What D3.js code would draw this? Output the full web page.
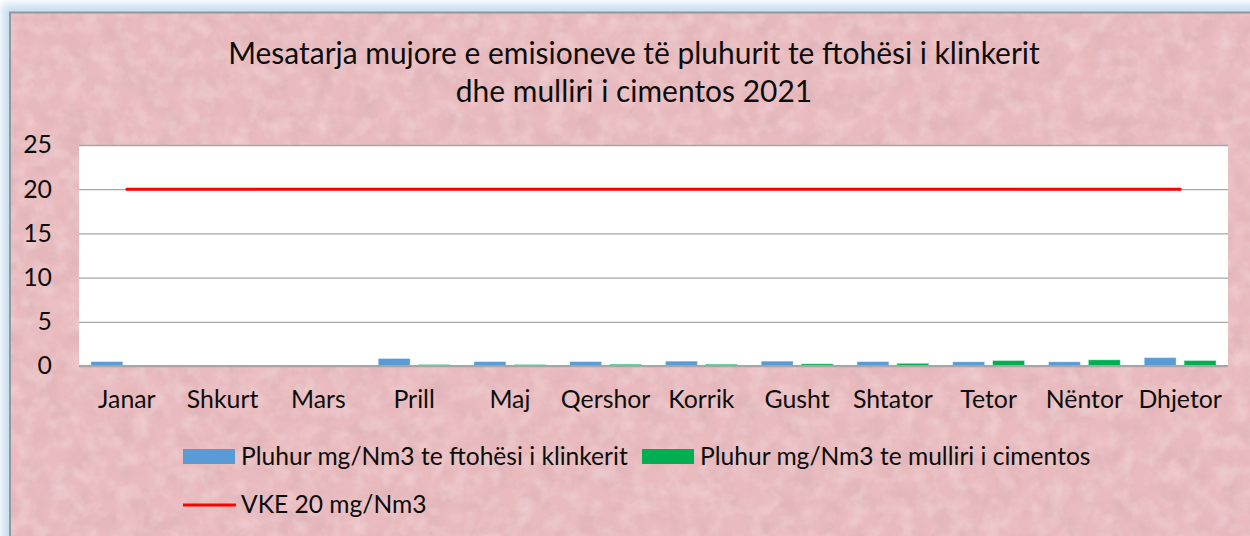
<!DOCTYPE html>
<html>
<head>
<meta charset="utf-8">
<script src="https://cdn.jsdelivr.net/npm/d3@7"></script>
<style>
  html, body { margin: 0; padding: 0; background: #ffffff; }
  svg { display: block; }
  text { font-family: Lato, "Open Sans", sans-serif; fill: #0d0d0d; }
</style>
</head>
<body>
<svg id="chart" width="1250" height="536"></svg>
<script>
// Monthly averages of dust emissions, 2021
const months = ["Janar", "Shkurt", "Mars", "Prill", "Maj", "Qershor", "Korrik", "Gusht", "Shtator", "Tetor", "Nëntor", "Dhjetor"];
const clinkerCooler = [0.5, 0, 0, 0.85, 0.5, 0.5, 0.55, 0.55, 0.5, 0.48, 0.48, 0.95];
const cementMill = [0, 0, 0, 0.17, 0.17, 0.2, 0.2, 0.25, 0.3, 0.62, 0.7, 0.62];
const limitVKE = [20, 20, 20, 20, 20, 20, 20, 20, 20, 20, 20, 20];
const yTicks = [0, 5, 10, 15, 20, 25];
const titleLines = ["Mesatarja mujore e emisioneve të pluhurit te ftohësi i klinkerit", "dhe mulliri i cimentos 2021"];
const seriesNames = ["Pluhur mg/Nm3 te ftohësi i klinkerit", "Pluhur mg/Nm3 te mulliri i cimentos", "VKE 20 mg/Nm3"];

const svg = d3.select("#chart");
const W = 1250, H = 536;
const plot = { left: 79, right: 1228, top: 145, bottom: 366 };
const colors = { blue: "#5b9bd5", green: "#00b050", red: "#ff0000", grid: "#a6a6a6" };

const defs = svg.append("defs");

// soft blue glow behind the frame
const blur = defs.append("filter").attr("id", "blur").attr("x", "-5%").attr("y", "-5%").attr("width", "110%").attr("height", "110%");
blur.append("feGaussianBlur").attr("stdDeviation", 4);

// paper-like texture for the pink frame
const tex = defs.append("filter").attr("id", "paper").attr("x", 0).attr("y", 0).attr("width", "100%").attr("height", "100%");
tex.append("feTurbulence").attr("type", "fractalNoise").attr("baseFrequency", "0.045").attr("numOctaves", 4).attr("seed", 3).attr("result", "noise");
tex.append("feColorMatrix").attr("in", "noise").attr("type", "matrix")
  .attr("values", "0 0 0 0 0.62  0 0 0 0 0.38  0 0 0 0 0.41  0 0 0 -0.7 0.42").attr("result", "dark");
tex.append("feTurbulence").attr("type", "fractalNoise").attr("baseFrequency", "0.06").attr("numOctaves", 3).attr("seed", 11).attr("result", "noise2");
tex.append("feColorMatrix").attr("in", "noise2").attr("type", "matrix")
  .attr("values", "0 0 0 0 0.98  0 0 0 0 0.86  0 0 0 0 0.87  0 0 0 -0.7 0.40").attr("result", "light");
tex.append("feMerge").call(m => { m.append("feMergeNode").attr("in", "dark"); m.append("feMergeNode").attr("in", "light"); });

svg.append("rect").attr("width", W).attr("height", H).attr("fill", "#ffffff");
svg.append("rect").attr("x", 2).attr("y", 4).attr("width", W + 20).attr("height", H + 20)
  .attr("fill", "#c9def0").attr("filter", "url(#blur)");

// frame
svg.append("rect").attr("x", 10).attr("y", 12.5).attr("width", W + 10).attr("height", H + 10)
  .attr("fill", "#e9bbbf");
svg.append("rect").attr("x", 10).attr("y", 12.5).attr("width", W + 10).attr("height", H + 10)
  .attr("fill", "#e9bbbf").attr("filter", "url(#paper)");
svg.append("rect").attr("x", 10).attr("y", 12.5).attr("width", W + 10).attr("height", H + 10)
  .attr("fill", "none").attr("stroke", "#8e989e").attr("stroke-width", 2);

// fits a text element to a target width by scaling its font size
function fitWidth(sel, target, base) {
  sel.style("font-size", base + "px");
  const w = sel.node().getComputedTextLength();
  const size = base * target / w;
  sel.style("font-size", size + "px");
  return size;
}

// title
const t1 = svg.append("text").attr("x", 634).attr("y", 64).attr("text-anchor", "middle").text(titleLines[0]);
const titleSize = fitWidth(t1, 812, 24);
svg.append("text").attr("x", 634).attr("y", 102).attr("text-anchor", "middle")
  .style("font-size", titleSize + "px").text(titleLines[1]);

// scales
const x0 = d3.scaleBand().domain(months).range([plot.left, plot.right]).paddingInner(0).paddingOuter(0);
const x1 = d3.scaleBand().domain(["a", "b"]).range([0, x0.bandwidth()]).paddingInner(0.2).paddingOuter(0.3);
const y = d3.scaleLinear().domain([0, 25]).range([plot.bottom, plot.top]);

// month labels size: widest label spans about 80px
const probe = svg.append("text").text("Shtator");
const labelSize = fitWidth(probe, 80, 20);
probe.remove();

// plot area + gridlines
svg.append("rect").attr("x", plot.left).attr("y", plot.top)
  .attr("width", plot.right - plot.left).attr("height", plot.bottom - plot.top).attr("fill", "#ffffff");

const yAxis = d3.axisLeft(y).tickValues(yTicks).tickSize(-(plot.right - plot.left)).tickPadding(27).tickFormat(d3.format("d"));
const gy = svg.append("g").attr("transform", `translate(${plot.left},0)`).call(yAxis);
gy.select(".domain").remove();
gy.selectAll(".tick line").attr("stroke", colors.grid).attr("stroke-width", 1.3);
gy.selectAll(".tick text").attr("fill", "#0d0d0d").style("font-size", labelSize + "px").attr("font-family", null);

// bars
const groups = svg.append("g").selectAll("g").data(months).join("g")
  .attr("transform", d => `translate(${x0(d)},0)`);
groups.append("rect")
  .attr("x", x1("a")).attr("width", x1.bandwidth())
  .attr("y", (d, i) => y(clinkerCooler[i]))
  .attr("height", (d, i) => y(0) - y(clinkerCooler[i]))
  .attr("fill", colors.blue)
  .attr("stroke", "rgba(255,255,255,0.35)").attr("stroke-width", 1);
groups.append("rect")
  .attr("x", x1("b")).attr("width", x1.bandwidth())
  .attr("y", (d, i) => y(cementMill[i]))
  .attr("height", (d, i) => y(0) - y(cementMill[i]))
  .attr("fill", colors.green)
  .attr("stroke", "rgba(255,255,255,0.35)").attr("stroke-width", 1);

// x axis line
svg.append("line").attr("x1", plot.left).attr("x2", plot.right)
  .attr("y1", y(0)).attr("y2", y(0)).attr("stroke", colors.grid).attr("stroke-width", 2);

// limit line
const line = d3.line().x((d, i) => x0(months[i]) + x0.bandwidth() / 2).y(d => y(d));
svg.append("path").datum(limitVKE).attr("d", line)
  .attr("fill", "none").attr("stroke", colors.red).attr("stroke-width", 3).attr("stroke-linecap", "round");

// month labels
svg.append("g").selectAll("text").data(months).join("text")
  .attr("x", d => x0(d) + x0.bandwidth() / 2).attr("y", 408)
  .attr("text-anchor", "middle").style("font-size", labelSize + "px").text(d => d);

// legend
const leg = svg.append("g");
leg.append("rect").attr("x", 183).attr("y", 449).attr("width", 52).attr("height", 15).attr("fill", colors.blue);
const l1 = leg.append("text").attr("x", 241).attr("y", 465).text(seriesNames[0]);
const legSize = fitWidth(l1, 387, 20);
leg.append("rect").attr("x", 642).attr("y", 449).attr("width", 52).attr("height", 15).attr("fill", colors.green);
leg.append("text").attr("x", 700).attr("y", 465).style("font-size", legSize + "px").text(seriesNames[1]);
leg.append("line").attr("x1", 183).attr("x2", 236).attr("y1", 505).attr("y2", 505)
  .attr("stroke", colors.red).attr("stroke-width", 3);
leg.append("text").attr("x", 241).attr("y", 513).style("font-size", legSize + "px").text(seriesNames[2]);
</script>
</body>
</html>
